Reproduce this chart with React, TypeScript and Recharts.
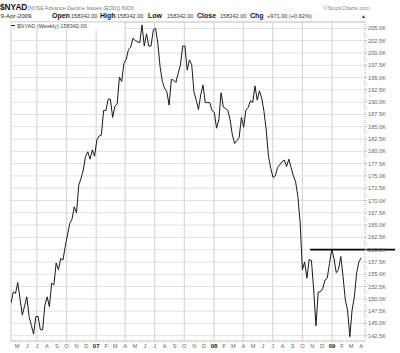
import React from 'react';
import { LineChart, Line, XAxis, YAxis, CartesianGrid, ReferenceLine } from 'recharts';

// weekly closes of $NYAD, in thousands (first week ~12-Apr-2006)
const firstWeek = '2006-04-12';
const nyad = [
  149.1, 151.4, 151.1, 153.3, 150.0, 146.7, 148.5, 150.4, 146.4, 144.6,
  142.8, 146.4, 146.4, 143.7, 143.7, 148.7, 150.4, 148.4, 153.2, 152.8,
  157.3, 155.9, 158.2, 157.9, 160.6, 163.0, 165.3, 166.2, 168.7, 167.5,
  173.1, 174.5, 176.2, 179.0, 179.9, 178.4, 180.3, 179.0, 182.3, 183.1,
  183.3, 188.3, 188.3, 190.6, 190.6, 186.9, 189.2, 189.6, 195.1, 194.2,
  197.9, 198.7, 200.7, 201.2, 203.0, 202.5, 202.3, 202.1, 205.7, 201.4,
  203.9, 201.4, 201.4, 204.7, 205.0, 202.0, 197.2, 194.2, 192.8, 192.1,
  189.4, 194.6, 194.5, 194.0, 195.9, 197.5, 201.4, 201.4, 196.5, 198.6,
  197.6, 192.1, 190.4, 188.5, 191.5, 193.5, 189.9, 189.9, 189.9, 188.3,
  187.9, 184.7, 186.4, 191.9, 189.0, 188.7, 188.3, 186.4, 183.3, 181.6,
  182.2, 182.8, 186.9, 184.9, 188.4, 188.9, 190.3, 189.9, 193.3, 190.4,
  192.3, 190.8, 188.1, 184.3, 178.9, 176.5, 174.7, 175.0, 176.7, 177.3,
  177.9, 178.2, 176.9, 178.4, 176.7, 175.0, 173.8, 170.8, 165.5, 155.9,
  157.5, 154.2, 158.0, 157.8, 151.8, 144.5, 151.4, 151.4, 152.1, 153.8,
  154.2, 157.2, 160.1, 158.2, 155.3, 156.0, 158.6, 154.5, 149.8, 147.7,
  142.3, 147.7, 150.4, 155.2, 157.5, 158.342,
];

const yTicks = [
  142.5, 145, 147.5, 150, 152.5, 155, 157.5, 160, 162.5, 165, 167.5, 170, 172.5,
  175, 177.5, 180, 182.5, 185, 187.5, 190, 192.5, 195, 197.5, 200, 202.5, 205,
];
const yDomain = [141.42, 206.3];

const monthLetters = ['J', 'F', 'M', 'A', 'M', 'J', 'J', 'A', 'S', 'O', 'N', 'D'];
const firstTickMonth = [2006, 4]; // May 2006
const tickMonthCount = 36;
const gridQuarters = [
  '2006-07-01', '2006-10-01', '2007-01-01', '2007-04-01', '2007-07-01', '2007-10-01',
  '2008-01-01', '2008-04-01', '2008-07-01', '2008-10-01', '2009-01-01',
];
const lastDay = 1097;

const resistance = { from: '2008-10-25', to: '2009-07-15', value: 160.0 };

const quoteDate = '9-Apr-2009';
const quote = [
  ['Open', '158342.00'],
  ['High', '158342.00'],
  ['Low', '158342.00'],
  ['Close', '158342.00'],
  ['Chg', '+971.00 (+0.62%)'],
];
const lastClose = '158342.00';

const FONT = '"Liberation Sans", Arial, sans-serif';
const DAY = 86400000;
const base = Date.parse(firstWeek);
const toDay = (s: string) => Math.round((Date.parse(s) - base) / DAY);

const data = nyad.map((v, i) => ({ day: i * 7, v }));

const monthTicks: number[] = [];
const tickLabels: Record<number, { text: string; year: boolean }> = {};
for (let k = 0; k < tickMonthCount; k++) {
  const m = (firstTickMonth[1] + k) % 12;
  const y = firstTickMonth[0] + Math.floor((firstTickMonth[1] + k) / 12);
  const d = Math.round((Date.UTC(y, m, 1) - base) / DAY);
  monthTicks.push(d);
  tickLabels[d] = m === 0 ? { text: String(y % 100).padStart(2, '0'), year: true } : { text: monthLetters[m], year: false };
}

const MonthTick = (props: any) => {
  const { x, y, payload } = props;
  const lab = tickLabels[payload.value];
  if (!lab) return null;
  return (
    <text x={x} y={y + 6.5} textAnchor="middle" fontSize={lab.year ? 6 : 5.7} fontWeight={lab.year ? 'bold' : 'normal'}
      fill={lab.year ? '#222' : '#666'} fontFamily={FONT}>
      {lab.text}
    </text>
  );
};

const quoteX = [52, 100, 148, 197, 250];
const valueX = [71, 117, 167, 220, 267];

export default function App() {
  return (
    <div style={{ position: 'absolute', left: 0, top: 0, width: 400, height: 353, background: '#fff' }}>
      <LineChart width={400} height={353} data={data} margin={{ top: 22, right: 0, bottom: 0, left: 11 }}>
        <CartesianGrid vertical={false} stroke="#e0e0e0" />
        {gridQuarters.map((q) => (
          <ReferenceLine key={q} x={toDay(q)} stroke="#d8d8d8" strokeWidth={1.2} />
        ))}
        <ReferenceLine x={0} stroke="#cccccc" />
        <ReferenceLine y={yDomain[1]} stroke="#cccccc" />
        <XAxis dataKey="day" type="number" domain={[0, lastDay]} ticks={monthTicks} interval={0}
          tick={<MonthTick />} tickLine={false} tickSize={0} tickMargin={0} height={12} allowDataOverflow
          axisLine={{ stroke: '#b0b0b0', strokeDasharray: '1 1' }} />
        <YAxis orientation="right" width={35} domain={yDomain} ticks={yTicks} interval={0} allowDataOverflow
          tickFormatter={(v: number) => v.toFixed(1) + 'K'} tickSize={2} tickMargin={1}
          tick={{ fontSize: 5.7, fill: '#666', fontFamily: FONT }}
          tickLine={{ stroke: '#bbb' }} axisLine={{ stroke: '#b0b0b0', strokeDasharray: '1 1' }} />
        <Line type="linear" dataKey="v" stroke="#1a1a1a" strokeWidth={1} dot={false} isAnimationActive={false} />
        <ReferenceLine ifOverflow="visible" stroke="#000" strokeWidth={1.6}
          segment={[{ x: toDay(resistance.from), y: resistance.value }, { x: toDay(resistance.to), y: resistance.value }]} />
      </LineChart>
      <svg width={400} height={353} style={{ position: 'absolute', left: 0, top: 0, pointerEvents: 'none' }} fontFamily={FONT}>
        <text x={0} y={9.5} fontSize={8.3} fontWeight="bold" fill="#111">$NYAD</text>
        <text x={27.5} y={9.5} fontSize={5.3} fill="#777">(NYSE Advance-Decline Issues (EOD)) INDX</text>
        <text x={370} y={9.5} fontSize={5.6} fill="#888" textAnchor="end">©StockCharts.com</text>
        <text x={0.5} y={18.3} fontSize={6.2} fill="#222">{quoteDate}</text>
        {quote.map(([k, v], i) => (
          <g key={k}>
            <text x={quoteX[i]} y={18.3} fontSize={7} fontWeight="bold" fill="#111">{k}</text>
            <text x={valueX[i]} y={18.3} fontSize={5.6} fill="#333">{v}</text>
          </g>
        ))}
        <text x={361} y={18.3} fontSize={5} fill="#333">▲</text>
        <rect x={11.5} y={22.5} width={112} height={7} fill="#fff" />
        <line x1={11} x2={15} y1={25.5} y2={25.5} stroke="#222" strokeWidth={1} />
        <text x={17} y={27.8} fontSize={5.6} fill="#444">$NYAD (Weekly) {lastClose}</text>
      </svg>
    </div>
  );
}
